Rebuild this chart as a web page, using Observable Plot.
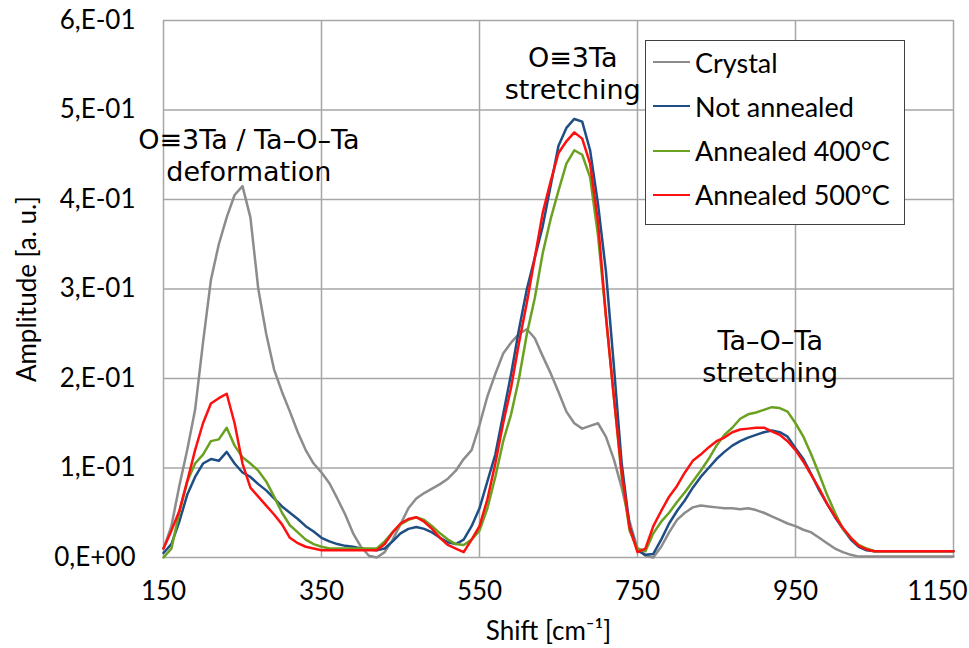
<!DOCTYPE html>
<html>
<head>
<meta charset="utf-8">
<script src="https://cdn.jsdelivr.net/npm/d3@7"></script>
<script src="https://cdn.jsdelivr.net/npm/@observablehq/plot@0.6"></script>
<style>
  html, body { margin: 0; padding: 0; background: #fff; }
  #wrap { position: relative; width: 969px; height: 648px; }
  #legend { position: absolute; left: 645px; top: 40px; width: 260px; height: 185px;
    border: 1.5px solid #404040; background: #fff; box-sizing: border-box;
    font-family: Lato, "Open Sans", sans-serif; font-size: 27px; color: #000; }
  .item { position: absolute; left: 7px; height: 34px; display: flex; align-items: center; }
  .swatch { width: 37px; height: 0; border-top: 2.5px solid; margin-right: 5px; }
</style>
</head>
<body>
<div id="wrap"><div id="legend"></div></div>
<script>
const shift = d3.range(150, 1151, 10);

const seriesNames = ["Crystal", "Not annealed", "Annealed 400°C", "Annealed 500°C"];
const seriesColors = ["#8c8c8c", "#1f4e85", "#6aa121", "#ff1010"];

const crystal = [
  0.010,0.035,0.080,0.120,0.165,0.240,0.310,0.350,0.380,0.405,
  0.415,0.380,0.300,0.250,0.210,0.185,0.163,0.140,0.120,0.105,
  0.095,0.083,0.066,0.048,0.027,0.012,0.002,0.000,0.006,0.020,
  0.037,0.055,0.066,0.072,0.077,0.082,0.088,0.097,0.110,0.120,
  0.148,0.180,0.205,0.228,0.240,0.250,0.255,0.245,0.225,0.206,
  0.185,0.163,0.150,0.144,0.147,0.150,0.135,0.110,0.078,0.040,
  0.010,0.002,0.000,0.012,0.028,0.042,0.050,0.056,0.058,0.057,
  0.056,0.055,0.055,0.054,0.055,0.053,0.050,0.046,0.042,0.038,
  0.035,0.031,0.028,0.022,0.016,0.010,0.006,0.003,0.001,0.001,
  0.001,0.001,0.001,0.001,0.001,0.001,0.001,0.001,0.001,0.001,
  0.001
];

const notAnnealed = [
  0.005,0.015,0.040,0.070,0.090,0.105,0.110,0.108,0.118,0.105,
  0.095,0.090,0.082,0.075,0.066,0.057,0.050,0.043,0.035,0.029,
  0.022,0.018,0.015,0.013,0.012,0.010,0.009,0.008,0.010,0.018,
  0.027,0.032,0.034,0.032,0.028,0.022,0.017,0.015,0.020,0.035,
  0.055,0.085,0.115,0.160,0.205,0.255,0.300,0.335,0.370,0.415,
  0.460,0.480,0.490,0.487,0.455,0.395,0.320,0.215,0.105,0.035,
  0.008,0.003,0.004,0.020,0.038,0.052,0.064,0.078,0.090,0.100,
  0.110,0.118,0.125,0.130,0.134,0.137,0.140,0.142,0.140,0.135,
  0.122,0.110,0.093,0.075,0.060,0.045,0.032,0.020,0.012,0.008,
  0.007,0.007,0.007,0.007,0.007,0.007,0.007,0.007,0.007,0.007,
  0.007
];

const annealed400 = [
  0.000,0.010,0.050,0.085,0.105,0.115,0.130,0.132,0.145,0.125,
  0.112,0.105,0.097,0.085,0.068,0.050,0.036,0.028,0.020,0.015,
  0.012,0.010,0.010,0.010,0.010,0.010,0.010,0.010,0.018,0.028,
  0.037,0.042,0.045,0.042,0.035,0.027,0.020,0.015,0.014,0.020,
  0.030,0.055,0.090,0.130,0.160,0.200,0.250,0.290,0.340,0.378,
  0.410,0.440,0.455,0.450,0.425,0.360,0.270,0.180,0.090,0.030,
  0.010,0.007,0.027,0.040,0.050,0.062,0.073,0.085,0.097,0.110,
  0.125,0.137,0.145,0.155,0.160,0.162,0.165,0.168,0.167,0.163,
  0.150,0.135,0.115,0.093,0.070,0.050,0.032,0.022,0.014,0.010,
  0.007,0.007,0.007,0.007,0.007,0.007,0.007,0.007,0.007,0.007,
  0.007
];

const annealed500 = [
  0.010,0.030,0.052,0.085,0.120,0.150,0.172,0.178,0.183,0.150,
  0.105,0.078,0.068,0.058,0.048,0.037,0.022,0.016,0.012,0.010,
  0.008,0.008,0.008,0.008,0.008,0.008,0.008,0.008,0.015,0.028,
  0.038,0.043,0.045,0.040,0.032,0.022,0.014,0.010,0.006,0.020,
  0.035,0.065,0.105,0.150,0.190,0.240,0.285,0.335,0.385,0.420,
  0.452,0.465,0.475,0.468,0.440,0.375,0.270,0.180,0.095,0.033,
  0.006,0.010,0.035,0.052,0.068,0.080,0.095,0.108,0.115,0.123,
  0.130,0.134,0.140,0.143,0.144,0.145,0.145,0.141,0.137,0.130,
  0.120,0.107,0.092,0.077,0.060,0.046,0.033,0.022,0.013,0.009,
  0.007,0.007,0.007,0.007,0.007,0.007,0.007,0.007,0.007,0.007,
  0.007
];

const seriesValues = [crystal, notAnnealed, annealed400, annealed500];

const xTicks = [150, 350, 550, 750, 950, 1150];
const yTicks = [0, 0.1, 0.2, 0.3, 0.4, 0.5, 0.6];
const yTickLabels = ["0,E+00", "1,E-01", "2,E-01", "3,E-01", "4,E-01", "5,E-01", "6,E-01"];
const xTitle = "Shift [cm⁻¹]";
const yTitle = "Amplitude [a. u.]";

const annotations = [
  {x: 258, y: 0.45, text: "O≡3Ta / Ta–O–Ta\ndeformation"},
  {x: 668, y: 0.542, text: "O≡3Ta\nstretching"},
  {x: 918, y: 0.225, text: "Ta–O–Ta\nstretching"}
];

const rows = [];
seriesNames.forEach((name, i) => {
  shift.forEach((s, j) => rows.push({series: name, shift: s, value: seriesValues[i][j]}));
});

const font = "Lato, 'Open Sans', sans-serif";
const lastTick = xTicks[xTicks.length - 1];

const chart = Plot.plot({
  width: 969,
  height: 648,
  marginLeft: 163,
  marginRight: 16,
  marginTop: 20,
  marginBottom: 91,
  style: {fontFamily: font, fontSize: "26px", color: "#000", background: "#fff", overflow: "visible"},
  x: {domain: [150, 1150]},
  y: {domain: [0, 0.6]},
  color: {domain: seriesNames, range: seriesColors},
  marks: [
    Plot.gridX(xTicks, {stroke: "#a6a6a6", strokeOpacity: 1, strokeWidth: 1.5}),
    Plot.gridY(yTicks, {stroke: "#a6a6a6", strokeOpacity: 1, strokeWidth: 1.5}),
    Plot.axisX(xTicks.slice(0, -1), {tickSize: 0, tickPadding: 24, tickFormat: d => String(d),
      label: null, fontSize: 26}),
    Plot.axisX([lastTick], {tickSize: 0, tickPadding: 24, tickFormat: d => String(d), dx: -16,
      label: null, fontSize: 26}),
    Plot.text([xTitle], {frameAnchor: "bottom", text: d => d, dy: 82, dx: -10, fontSize: 26,
      fill: "#000"}),
    Plot.axisY({ticks: yTicks, tickSize: 0, tickPadding: 28,
      tickFormat: d => yTickLabels[Math.round(d * 10)],
      label: yTitle, labelAnchor: "center", labelArrow: "none", labelOffset: 146, fontSize: 26}),
    Plot.line(rows, {x: "shift", y: "value", z: "series", stroke: "series", strokeWidth: 2.5,
      curve: "linear"}),
    Plot.text(annotations, {x: "x", y: "y", text: "text", fontSize: 27, lineHeight: 1.18,
      fontFamily: "DejaVu Sans, sans-serif", fill: "#000"})
  ]
});

document.getElementById("wrap").prepend(chart);

const legend = document.getElementById("legend");
seriesNames.forEach((name, i) => {
  const item = document.createElement("div");
  item.className = "item";
  item.style.top = (4 + i * 44.3) + "px";
  const sw = document.createElement("span");
  sw.className = "swatch";
  sw.style.borderTopColor = seriesColors[i];
  const tx = document.createElement("span");
  tx.textContent = name;
  item.appendChild(sw);
  item.appendChild(tx);
  legend.appendChild(item);
});
</script>
</body>
</html>
